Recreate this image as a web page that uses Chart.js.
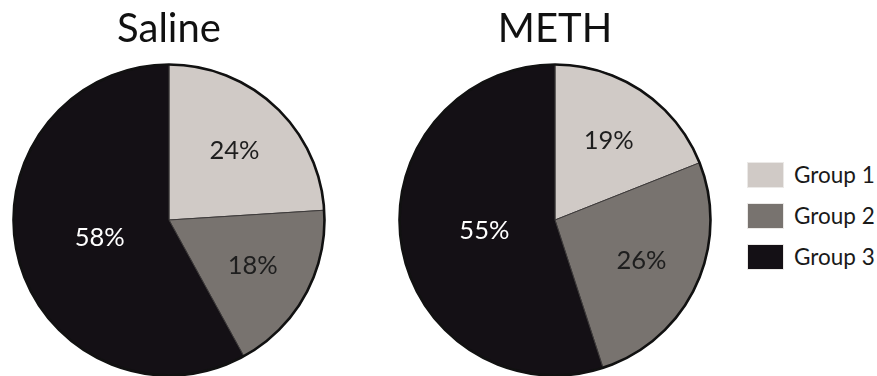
<!DOCTYPE html>
<html>
<head>
<meta charset="utf-8">
<script src="https://cdn.jsdelivr.net/npm/chart.js@4/dist/chart.umd.min.js"></script>
<style>
  html, body { margin: 0; padding: 0; background: #ffffff; }
  #wrap { position: relative; width: 877px; height: 376px; overflow: hidden; background: #fff; }
  .pie { position: absolute; top: 0; width: 338px; height: 376px; }
  #legend { position: absolute; left: 747px; top: 162px; font-family: Lato, "Open Sans", sans-serif; }
  .item { display: flex; align-items: center; height: 25px; margin-bottom: 16px; }
  .box { width: 35px; height: 24px; border: 1px solid #ebe9e7; margin-right: 10px; }
  .lab { font-size: 22.5px; color: #1a1a1a; line-height: 25px; }
</style>
</head>
<body>
<div id="wrap">
  <div class="pie" style="left:0px;"><canvas id="c1"></canvas></div>
  <div class="pie" style="left:386px;"><canvas id="c2"></canvas></div>
  <div id="legend"></div>
</div>
<script>
// ---- data ----
const groups = ["Group 1", "Group 2", "Group 3"];
const salineValues = [24, 18, 58];
const methValues = [19, 26, 55];
const titles = ["Saline", "METH"];

// ---- style ----
const sliceColors = ["#d0cac6", "#78736f", "#141015"];
const labelColors = ["#1e1e1e", "#1e1e1e", "#ffffff"];
const fontFamily = "Lato, 'Open Sans', sans-serif";

const pctLabels = {
  id: "pctLabels",
  afterDatasetsDraw(chart) {
    const ctx = chart.ctx;
    const meta = chart.getDatasetMeta(0);
    const data = chart.data.datasets[0].data;
    const total = data.reduce((a, b) => a + b, 0);
    // outer ring
    const a0 = meta.data[0];
    ctx.save();
    ctx.beginPath();
    ctx.arc(a0.x, a0.y, a0.outerRadius, 0, Math.PI * 2);
    ctx.lineWidth = 2.6;
    ctx.strokeStyle = "#111111";
    ctx.stroke();
    ctx.font = "25.5px " + fontFamily;
    ctx.textAlign = "center";
    ctx.textBaseline = "middle";
    meta.data.forEach((arc, i) => {
      const frac = data[i] / total >= 0.5 ? 0.46 : 0.615;
      const mid = (arc.startAngle + arc.endAngle) / 2;
      const r = arc.outerRadius * frac;
      ctx.fillStyle = labelColors[i];
      ctx.fillText(Math.round(data[i]) + "%", arc.x + Math.cos(mid) * r, arc.y + Math.sin(mid) * r);
    });
    ctx.restore();
  }
};

function makePie(id, title, values) {
  return new Chart(document.getElementById(id), {
    type: "pie",
    data: {
      labels: groups,
      datasets: [{
        data: values,
        backgroundColor: sliceColors,
        borderColor: "#3d3a3a",
        borderWidth: 1
      }]
    },
    options: {
      responsive: true,
      maintainAspectRatio: false,
      animation: false,
      rotation: 0,
      layout: { padding: 0 },
      plugins: {
        legend: { display: false },
        tooltip: { enabled: false },
        title: {
          display: true,
          text: title,
          color: "#111111",
          font: { family: fontFamily, size: 40, weight: "normal" },
          padding: { top: 5, bottom: 11 }
        }
      }
    },
    plugins: [pctLabels]
  });
}

makePie("c1", titles[0], salineValues);
makePie("c2", titles[1], methValues);

// HTML legend built from arrays
const leg = document.getElementById("legend");
groups.forEach((g, i) => {
  const it = document.createElement("div");
  it.className = "item";
  const b = document.createElement("div");
  b.className = "box";
  b.style.background = sliceColors[i];
  const t = document.createElement("span");
  t.className = "lab";
  t.textContent = g;
  it.appendChild(b); it.appendChild(t);
  leg.appendChild(it);
});
</script>
</body>
</html>
